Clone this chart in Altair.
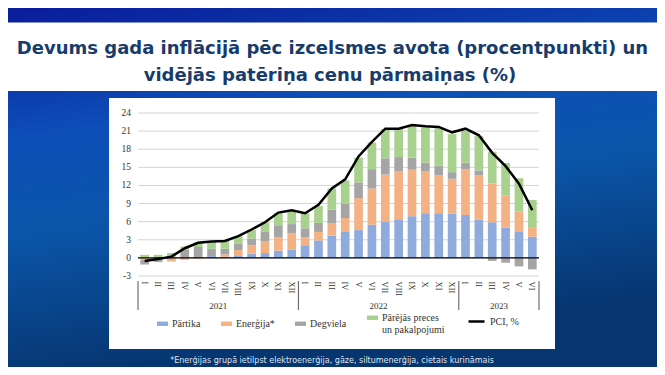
import altair as alt
import pandas as pd

# ---------------- data ----------------
months = ["I", "II", "III", "IV", "V", "VI", "VII", "VIII", "IX", "X", "XI", "XII"] * 2 + ["I", "II", "III", "IV", "V", "VI"]
month_years = ["2021"] * 12 + ["2022"] * 12 + ["2023"] * 6

categories = ["Pārtika", "Enerģija*", "Degviela", "Pārējās preces un pakalpojumi"]
colors = ["#8faadc", "#f4b183", "#a5a5a5", "#a9d18e"]

food = [0.0, 0.0, -0.1, 0.0, 0.0, 0.3, 0.2, 0.3, 0.7, 0.8, 1.2, 1.4,
        2.1, 2.9, 3.7, 4.3, 4.6, 5.5, 6.0, 6.4, 6.9, 7.4, 7.4, 7.3,
        7.1, 6.3, 5.9, 5.0, 4.4, 3.5]
energy = [-0.3, -0.2, -0.5, -0.3, -0.1, 0.0, 0.4, 1.0, 1.4, 1.9, 2.2, 2.7,
          1.3, 1.4, 2.0, 2.3, 5.3, 6.0, 7.8, 7.9, 7.7, 6.9, 6.3, 5.8,
          7.6, 7.4, 6.4, 5.3, 3.3, 1.6]
fuel = [-0.8, -0.5, 0.2, 1.3, 1.8, 1.2, 0.9, 1.1, 1.1, 1.6, 2.0, 1.5,
        1.5, 1.5, 2.3, 2.4, 2.6, 3.2, 2.7, 2.4, 2.0, 1.5, 1.6, 1.1,
        1.1, 0.8, -0.5, -0.8, -1.4, -1.9]
other = [0.5, 0.5, 0.6, 0.6, 0.8, 1.2, 1.3, 1.2, 1.4, 1.6, 2.0, 2.0,
         2.5, 2.8, 3.5, 3.8, 4.1, 4.4, 4.8, 4.7, 5.3, 5.8, 6.2, 6.3,
         5.2, 5.7, 5.3, 5.4, 5.5, 4.5]
pci = [-0.5, -0.2, 0.2, 1.6, 2.5, 2.7, 2.8, 3.6, 4.7, 5.9, 7.5, 7.9,
       7.4, 8.8, 11.5, 13.0, 16.8, 19.2, 21.4, 21.4, 22.0, 21.8, 21.7, 20.8,
       21.4, 20.3, 17.4, 15.2, 12.3, 7.9]

y_ticks = [-3, 0, 3, 6, 9, 12, 15, 18, 21, 24]
years = ["2021", "2022", "2023"]
year_mid_keys = ["2021-VII", "2022-VII", "2023-IV"]
year_start_keys = ["2021-I", "2022-I", "2023-I"]
last_key = ["2023-VI"]

title_line1 = "Devums gada inflācijā pēc izcelsmes avota (procentpunkti) un"
title_line2 = "vidējās patēriņa cenu pārmaiņas (%)"
footnote = "*Enerģijas grupā ietilpst elektroenerģija, gāze, siltumenerģija, cietais kurināmais"

# ---------------- tables ----------------
keys = [f"{y}-{m}" for y, m in zip(month_years, months)]
rows = []
for i, k in enumerate(keys):
    for j, (c, s) in enumerate(zip(categories, [food, energy, fuel, other])):
        rows.append({"key": k, "cat": c, "val": s[i], "ord": j})
bars_df = pd.DataFrame(rows)
line_df = pd.DataFrame({"key": keys, "pci": pci, "series": "PCI, %"})
year_df = pd.DataFrame({"key": year_mid_keys, "year": years})
sep_df = pd.DataFrame({"key": year_start_keys})
end_df = pd.DataFrame({"key": last_key})
grid_df = pd.DataFrame({"v": y_ticks, "lab": [str(t) for t in y_ticks]})
one = pd.DataFrame({"a": [0]})

# ---------------- layout (pixels) ----------------
W, H = 401, 163
PL, PT, PR, PB = 130, 105, 118, 91
step = W / len(keys)
cat_off = -0.175 * step
serif = "Liberation Serif"

xsc = alt.Scale(domain=keys, paddingInner=0.35, paddingOuter=0.175)
ysc = alt.Scale(domain=[-3, 24], nice=False, zero=False)


def px(x):
    return alt.value(x - 8 - PL)


def py(y):
    return alt.value(y - 8 - PT)


bg = alt.Chart(one).mark_rect(
    color=alt.LinearGradient(
        gradient="linear", x1=0, y1=0, x2=0.25, y2=1,
        stops=[alt.GradientStop(color="#0a1c9a", offset=0),
               alt.GradientStop(color="#0d4fb8", offset=0.35),
               alt.GradientStop(color="#0b55a8", offset=0.6),
               alt.GradientStop(color="#06356f", offset=1)])
).encode(x=alt.value(-PL), x2=alt.value(W + PR), y=alt.value(-PT), y2=alt.value(H + PB))

band = alt.Chart(one).mark_rect(color="white").encode(
    x=alt.value(-PL), x2=alt.value(W + PR), y=py(22.5), y2=py(91))

panel = alt.Chart(one).mark_rect(color="white").encode(
    x=px(109), x2=px(555), y=py(98), y2=py(349))

title1 = alt.Chart(one).mark_text(
    font="DejaVu Sans", fontWeight="bold", fontSize=18, color="#173c6c", align="center", baseline="middle",
    text=title_line1
).encode(x=px(332.5), y=py(49))

title2 = alt.Chart(one).mark_text(
    font="DejaVu Sans", fontWeight="bold", fontSize=18, color="#173c6c", align="center", baseline="middle",
    text=title_line2
).encode(x=px(330), y=py(76))

foot = alt.Chart(one).mark_text(
    font="DejaVu Sans", fontSize=8, color="#dfe7f5", align="center", baseline="middle", text=footnote
).encode(x=px(332), y=py(361))

# gridlines and y tick labels drawn as marks (axes would sit under the white panel)
grid = alt.Chart(grid_df).mark_rule(color="#d4d4d4", strokeWidth=1).encode(
    x=alt.value(0), x2=alt.value(W),
    y=alt.Y("v:Q", scale=ysc, axis=None))

ylabels = alt.Chart(grid_df).mark_text(
    font=serif, fontSize=9.5, color="#333333", align="right", baseline="middle", dx=-7
).encode(x=alt.value(0), y=alt.Y("v:Q", scale=ysc, axis=None), text="lab:N")

bars = alt.Chart(bars_df).mark_bar().encode(
    x=alt.X("key:N", sort=keys, scale=xsc,
            axis=alt.Axis(title=None, labelAngle=90, labelAlign="left", labelBaseline="middle",
                          labelExpr="split(datum.value, '-')[1]", labelPadding=5,
                          labelFont=serif, labelFontSize=8.5, labelColor="#333333", labelOverlap=False,
                          ticks=False, domain=False, grid=False, zindex=1)),
    y=alt.Y("val:Q", stack="zero", scale=ysc, axis=None),
    color=alt.Color("cat:N", scale=alt.Scale(domain=categories, range=colors),
                    legend=alt.Legend(orient="none", legendX=19, legendY=199, direction="horizontal",
                                      title=None, symbolType="M-1,-0.4H1V0.4H-1Z", symbolSize=121,
                                      symbolStrokeWidth=0, labelFont=serif, labelFontSize=10,
                                      labelColor="#333333", columnPadding=20, labelLimit=200,
                                      labelExpr="datum.label == 'Pārējās preces un pakalpojumi' ? ['Pārējās preces', 'un pakalpojumi'] : datum.label")),
    order=alt.Order("ord:Q", sort="ascending"),
)

zero = alt.Chart(one).mark_rule(color="black", strokeWidth=1.2).encode(
    x=alt.value(0), x2=alt.value(W), y=alt.Y(datum=0, scale=ysc, axis=None))

line = alt.Chart(line_df).mark_line(strokeWidth=2.5).encode(
    x=alt.X("key:N", sort=keys),
    y=alt.Y("pci:Q", scale=ysc, axis=None),
    stroke=alt.Stroke("series:N", scale=alt.Scale(range=["#000000"]),
                      legend=alt.Legend(orient="none", legendX=329, legendY=199, title=None,
                                        symbolType="stroke", symbolSize=256, symbolStrokeWidth=2.5,
                                        labelFont=serif, labelFontSize=10, labelColor="#333333")),
)

year_text = alt.Chart(year_df).mark_text(
    font=serif, fontSize=9, color="#333333", baseline="middle", xOffset=cat_off
).encode(x=alt.X("key:N", sort=keys, bandPosition=0), y=py(306), text="year:N")

seps = alt.Chart(sep_df).mark_rule(color="#555555", strokeWidth=1, xOffset=cat_off).encode(
    x=alt.X("key:N", sort=keys, bandPosition=0), y=py(281), y2=py(310))

sep_end = alt.Chart(end_df).mark_rule(color="#555555", strokeWidth=1, xOffset=-cat_off).encode(
    x=alt.X("key:N", sort=keys, bandPosition=1), y=py(281), y2=py(310))

chart = alt.layer(bg, band, panel, title1, title2, foot, grid, ylabels, bars, zero, line,
                  year_text, seps, sep_end).properties(
    width=W, height=H,
    padding={"left": PL, "top": PT, "right": PR, "bottom": PB},
    autosize=alt.AutoSizeParams(type="none"),
).configure_view(stroke=None).configure(background="#0d45b0")

chart.save("out.html", embed_options={"renderer": "svg", "actions": False})
